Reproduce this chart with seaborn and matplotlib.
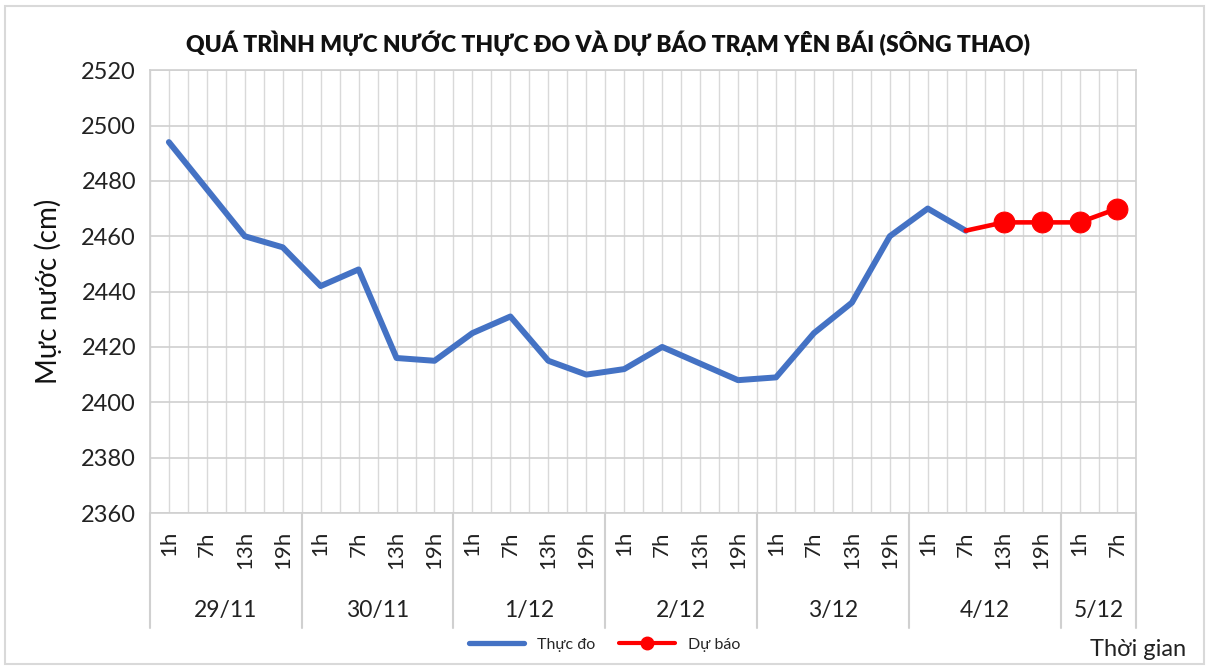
import numpy as np
import pandas as pd
import seaborn as sns
import matplotlib.pyplot as plt
from matplotlib.lines import Line2D
from matplotlib.patches import Rectangle

# Données
ngay = ['29/11', '30/11', '1/12', '2/12', '3/12', '4/12', '5/12']
so_gio = [4, 4, 4, 4, 4, 4, 2]
gio = ['1h', '7h', '13h', '19h'] * 6 + ['1h', '7h']

thuc_do = [2494, 2477, 2460, 2456,
           2442, 2448, 2416, 2415,
           2425, 2431, 2415, 2410,
           2412, 2420, 2414, 2408,
           2409, 2425, 2436, 2460,
           2470, 2462]
du_bao = [2462, 2465, 2465, 2465, 2470]
du_bao_start = 21  # 4/12 7h

df_td = pd.DataFrame({'x': np.arange(len(thuc_do)), 'y': thuc_do})
df_db = pd.DataFrame({'x': np.arange(du_bao_start, du_bao_start + len(du_bao)), 'y': du_bao})

sns.set_style('white')
plt.rcParams['font.family'] = ['Lato', 'DejaVu Sans']

fig = plt.figure(figsize=(12.09, 6.68), dpi=100)
ax = fig.add_axes([0.124, 0.232, 0.816, 0.663])

blue = '#4472C4'
red = '#FF0000'
sns.lineplot(data=df_td, x='x', y='y', color=blue, linewidth=4.3, ax=ax, zorder=3)
sns.lineplot(data=df_db, x='x', y='y', color=red, linewidth=3.3, marker='o', markersize=15,
             markeredgecolor=red, markevery=[1, 2, 3, 4], ax=ax, zorder=4)

n = len(gio)
ax.set_xlim(-0.5, n - 0.5)
ax.set_ylim(2360, 2520)
ax.set_yticks(np.arange(2360, 2521, 20))

# lưới dọc mỗi nửa khoảng
for xv in np.arange(-0.5, n, 0.5):
    ax.axvline(xv, color='#d9d9d9', lw=1, zorder=1)
for yv in np.arange(2360, 2521, 20):
    ax.axhline(yv, color='#d0d0d0', lw=1.2, zorder=1)

for s in ax.spines.values():
    s.set_color('#d0d0d0')
    s.set_linewidth(1.2)

ax.set_xticks(np.arange(n))
ax.set_xticklabels(gio, rotation=90, va='top', fontsize=16, color='#222222')
ax.set_xticks(np.arange(-0.5, n, 1), minor=True)
ax.tick_params(axis='x', which='major', length=0, pad=13)
ax.tick_params(axis='x', which='minor', length=4, color='#d0d0d0', width=1)
ax.tick_params(axis='y', labelsize=17, colors='#222222', length=0, pad=10)

ax.set_xlabel('')
ax.set_ylabel('Mực nước (cm)', fontsize=20, labelpad=14, color='#111111')

# nhãn ngày + đường phân cách
tr = ax.get_xaxis_transform()
start = -0.5
for d, k in zip(ngay, so_gio):
    ax.plot([start, start], [0, -0.26], transform=tr, color='#d0d0d0', lw=1.5, clip_on=False)
    ax.text(start + k / 2, -0.22, d, transform=tr, ha='center', va='center',
            fontsize=16.5, color='#222222')
    start += k
ax.plot([start, start], [0, -0.26], transform=tr, color='#d0d0d0', lw=1.5, clip_on=False)

fig.text(0.503, 0.935, 'QUÁ TRÌNH MỰC NƯỚC THỰC ĐO VÀ DỰ BÁO TRẠM YÊN BÁI (SÔNG THAO)',
         ha='center', va='center', fontsize=16.5, fontweight='heavy', color='#111111')

handles = [Line2D([], [], color=blue, lw=3.8),
           Line2D([], [], color=red, lw=3, marker='o', markersize=9)]
fig.legend(handles, ['Thực đo', 'Dự báo'], loc='center', bbox_to_anchor=(0.5, 0.035),
           ncol=2, frameon=False, fontsize=11.5, handlelength=3.5, columnspacing=1.5)

fig.text(0.981, 0.027, 'Thời gian', ha='right', va='center', fontsize=17, color='#222222')

fig.patches.append(Rectangle((0.004, 0.006), 0.992, 0.985, transform=fig.transFigure,
                             fill=False, edgecolor='#d9d9d9', lw=1.5))

fig.savefig('out.png', dpi=100)
